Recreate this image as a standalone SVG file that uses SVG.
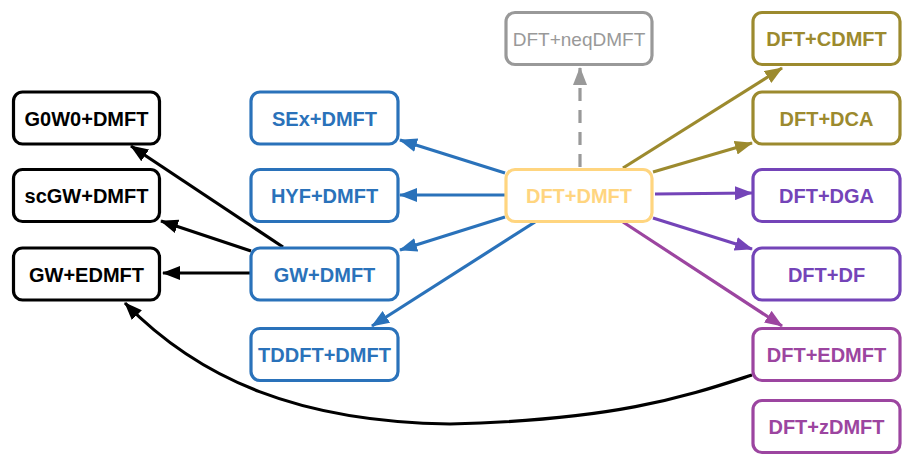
<svg xmlns="http://www.w3.org/2000/svg" width="913" height="467" viewBox="0 0 913 467">
<style>
.box{fill:#fff;stroke-width:3.2}
.t{font-family:"Liberation Sans",Arial,sans-serif;font-size:20px;font-weight:bold;text-anchor:middle}
.tr{font-family:"Liberation Sans",Arial,sans-serif;font-size:19px;text-anchor:middle}
.c{fill:none;stroke-width:3.2}
.k{stroke:#000}.kf{fill:#000}
.b{stroke:#2A72BA}.bf{fill:#2A72BA}
.y{stroke:#FFD57F}.yf{fill:#FFD57F}
.g{stroke:#999}.gf{fill:#999}
.o{stroke:#9C8A2E}.of{fill:#9C8A2E}
.p{stroke:#7444B8}.pf{fill:#7444B8}
.m{stroke:#9C45A0}.mf{fill:#9C45A0}
</style>
<defs>
<marker id="ak" markerUnits="userSpaceOnUse" markerWidth="18" markerHeight="14" refX="17" refY="7" orient="auto"><path d="M0,0 L18,7 L0,14 z" fill="#000"/></marker>
<marker id="ab" markerUnits="userSpaceOnUse" markerWidth="18" markerHeight="14" refX="17" refY="7" orient="auto"><path d="M0,0 L18,7 L0,14 z" fill="#2A72BA"/></marker>
<marker id="ag" markerUnits="userSpaceOnUse" markerWidth="18" markerHeight="14" refX="17" refY="7" orient="auto"><path d="M0,0 L18,7 L0,14 z" fill="#999"/></marker>
<marker id="ao" markerUnits="userSpaceOnUse" markerWidth="18" markerHeight="14" refX="17" refY="7" orient="auto"><path d="M0,0 L18,7 L0,14 z" fill="#9C8A2E"/></marker>
<marker id="ap" markerUnits="userSpaceOnUse" markerWidth="18" markerHeight="14" refX="17" refY="7" orient="auto"><path d="M0,0 L18,7 L0,14 z" fill="#7444B8"/></marker>
<marker id="am" markerUnits="userSpaceOnUse" markerWidth="18" markerHeight="14" refX="17" refY="7" orient="auto"><path d="M0,0 L18,7 L0,14 z" fill="#9C45A0"/></marker>
</defs>
<rect width="913" height="467" fill="#fff"/>
<g id="connectors">
<path class="c b" d="M505,173 L400,140" marker-end="url(#ab)"/>
<path class="c b" d="M505,195 L400,195" marker-end="url(#ab)"/>
<path class="c b" d="M505,217 L400,250" marker-end="url(#ab)"/>
<path class="c b" d="M535,222 L372,326" marker-end="url(#ab)"/>
<path class="c k" d="M283,247 L131,146" marker-end="url(#ak)"/>
<path class="c k" d="M251,251 L161,221" marker-end="url(#ak)"/>
<path class="c k" d="M250,273 L163,273" marker-end="url(#ak)"/>
<path class="c k" d="M752,375 C690,395 620,420 450,424 C300,422 200,380 125,303" marker-end="url(#ak)"/>
<path class="c g" d="M580,167 L580,68" stroke-dasharray="13,9" marker-end="url(#ag)"/>
<path class="c o" d="M623,168 L782,68" marker-end="url(#ao)"/>
<path class="c o" d="M653,172 L752,143" marker-end="url(#ao)"/>
<path class="c p" d="M655,194 L752,193" marker-end="url(#ap)"/>
<path class="c p" d="M653,218 L752,249" marker-end="url(#ap)"/>
<path class="c m" d="M623,222 L782,326" marker-end="url(#am)"/>
</g>
<g id="n-g0w0"><rect class="box k" x="13.5" y="92" width="146" height="52" rx="9"/><text class="t kf" x="86.5" y="125.5">G0W0+DMFT</text></g>
<g id="n-scgw"><rect class="box k" x="13.5" y="169.5" width="146" height="52" rx="9"/><text class="t kf" x="86.5" y="203">scGW+DMFT</text></g>
<g id="n-gwedmft"><rect class="box k" x="13.5" y="248" width="146" height="52" rx="9"/><text class="t kf" x="86.5" y="281.5">GW+EDMFT</text></g>
<g id="n-sex"><rect class="box b" x="251" y="92" width="147" height="52" rx="9"/><text class="t bf" x="324.5" y="125.5">SEx+DMFT</text></g>
<g id="n-hyf"><rect class="box b" x="251" y="169.5" width="147" height="52" rx="9"/><text class="t bf" x="324.5" y="203">HYF+DMFT</text></g>
<g id="n-gwdmft"><rect class="box b" x="251" y="248" width="147" height="52" rx="9"/><text class="t bf" x="324.5" y="281.5">GW+DMFT</text></g>
<g id="n-tddft"><rect class="box b" x="251" y="328.5" width="147" height="52" rx="9"/><text class="t bf" x="324.5" y="362">TDDFT+DMFT</text></g>
<g id="n-neq"><rect class="box g" x="506" y="12.5" width="146" height="52" rx="9"/><text class="tr gf" x="579" y="46">DFT+neqDMFT</text></g>
<g id="n-dftdmft"><rect class="box y" x="506" y="169.5" width="146" height="52" rx="9"/><text class="t yf" x="579" y="203">DFT+DMFT</text></g>
<g id="n-cdmft"><rect class="box o" x="753" y="12.5" width="147" height="52" rx="9"/><text class="t of" x="826.5" y="46">DFT+CDMFT</text></g>
<g id="n-dca"><rect class="box o" x="753" y="92" width="147" height="52" rx="9"/><text class="t of" x="826.5" y="125.5">DFT+DCA</text></g>
<g id="n-dga"><rect class="box p" x="753" y="169.5" width="147" height="52" rx="9"/><text class="t pf" x="826.5" y="203">DFT+DGA</text></g>
<g id="n-df"><rect class="box p" x="753" y="248" width="147" height="52" rx="9"/><text class="t pf" x="826.5" y="281.5">DFT+DF</text></g>
<g id="n-edmft"><rect class="box m" x="753" y="328.5" width="147" height="52" rx="9"/><text class="t mf" x="826.5" y="362">DFT+EDMFT</text></g>
<g id="n-zdmft"><rect class="box m" x="753" y="400.5" width="147" height="52" rx="9"/><text class="t mf" x="826.5" y="434">DFT+zDMFT</text></g>
</svg>
